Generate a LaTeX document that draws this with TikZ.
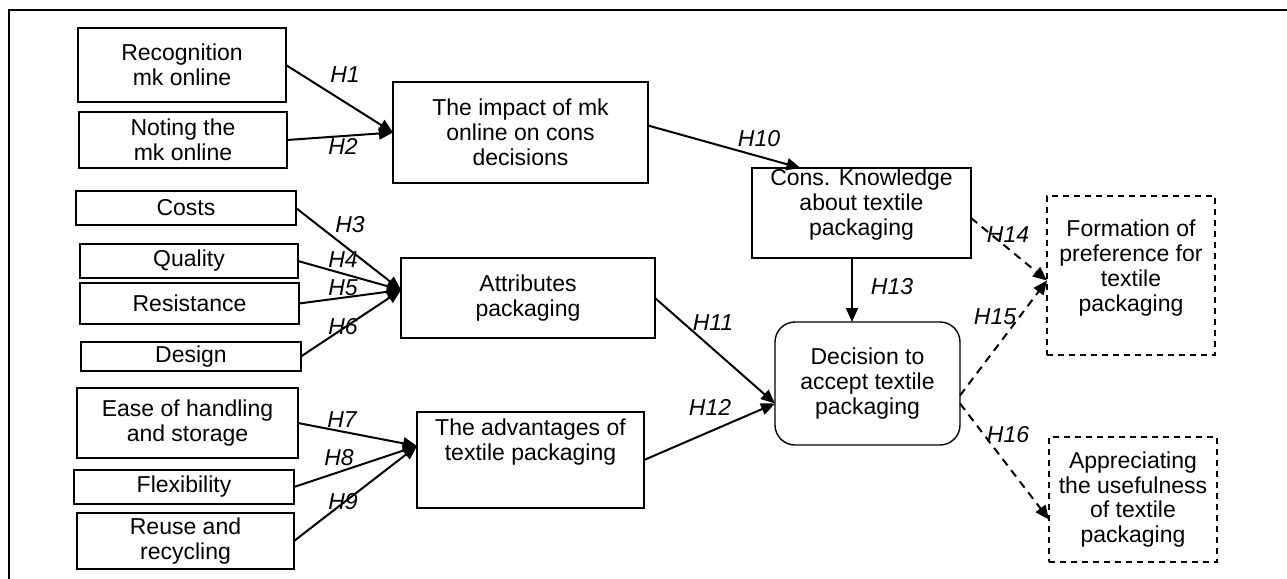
\documentclass[tikz,border=0pt]{standalone}
\usepackage{fontspec}
\setmainfont{Liberation Sans}
\usetikzlibrary{arrows.meta}
\tikzset{
  box/.style={draw, line width=.7pt, align=center, inner sep=0pt, outer sep=0pt,
    font=\fontsize{11.5}{12.4}\selectfont},
  dbox/.style={box, dash pattern=on 3pt off 2.5pt},
  sz/.style 2 args={minimum width=#1*.5pt, minimum height=#2*.5pt},
  hyp/.style={inner sep=0pt, font=\fontsize{11.5}{12.4}\selectfont\itshape},
  link/.style={line width=1pt, -{Triangle[length=7pt,width=6pt]}},
  dlink/.style={link, dash pattern=on 4pt off 3pt},
}
\begin{document}
\begin{tikzpicture}[x=.5pt,y=-.5pt]
  \useasboundingbox (0,0) rectangle (1287,579);
  \draw[line width=.6pt] (9,579) -- (9,10) -- (1287,10);

  % left column
  \node[box,sz={208}{74}] (recog) at (182,65) {Recognition\\mk online};
  \node[box,sz={208}{56}] (noting) at (183,140) {Noting the\\mk online};
  \node[box,sz={220}{34}] (costs) at (186,208) {Costs};
  \node[box,sz={218}{34}] (quality) at (189,261) {Quality};
  \node[box,sz={219}{41}] (resist) at (189.5,303.5) {Resistance};
  \node[box,sz={220}{29}] (design) at (191,356.5) {Design};
  \node[box,sz={221}{70}] (ease) at (187.5,423) {Ease of handling\\and storage};
  \node[box,sz={220}{34}] (flex) at (184,487) {Flexibility};
  \node[box,sz={217}{56}] (reuse) at (185.5,541) {Reuse and\\recycling};

  % middle column
  \node[box,sz={255}{101}] (impact) at (520.5,132.5) {The impact of mk\\online on cons\\decisions};
  \node[box,sz={254}{80}] (attrib) at (528,298) {Attributes\\packaging};
  \node[box,sz={227}{96},text depth=20pt] (advant) at (530.5,460) {The advantages of\\textile packaging};

  % right part
  \node[box,sz={219}{90},text depth=11pt] (knowl) at (861.5,213) {Cons. Knowledge\\about textile\\packaging};
  \node[box,sz={185}{123},rounded corners=10pt] (decis) at (867.5,383.5) {Decision to\\accept textile\\packaging};
  \node[dbox,sz={168}{159},text depth=10pt] (pref) at (1131,275.5) {Formation of\\preference for\\textile\\packaging};
  \node[dbox,sz={168}{125}] (useful) at (1133,499.5) {Appreciating\\the usefulness\\of textile\\packaging};

  \foreach \n/\x/\y in {1/345/75, 2/343/146, 3/350/225, 4/343/260, 5/343/288,
      6/343/327, 7/342/420, 8/339/458, 9/343/502, 10/759/139, 11/713/323,
      12/710/407, 13/892/287, 14/1008/235, 15/995/317, 16/1008/435}{%
    \node[hyp] (h\n) at (\x,\y) {H\n};
  }

  \draw[link] (recog.east) -- (impact.west);
  \draw[link] (noting.east) -- (impact.west);
  \foreach \s in {costs,quality,resist,design}{%
    \draw[link] (\s.east) -- ([yshift=4pt]attrib.west);
  }
  \foreach \s in {ease,flex,reuse}{%
    \draw[link] (\s.east) -- ([yshift=7pt]advant.west);
  }
  \draw[link] ([yshift=3.5pt]impact.east) -- ([xshift=-30.5pt]knowl.north);
  \draw[link] (attrib.east) -- ([yshift=-10pt]decis.west);
  \draw[link] (advant.east) -- ([yshift=-10pt]decis.west);
  \draw[link] ([xshift=-4.75pt]knowl.south) -- ([xshift=-4.75pt]knowl.south |- decis.north);
  \draw[dlink] ([yshift=-2.5pt]knowl.east) -- ([yshift=-2.5pt]pref.west);
  \draw[dlink] ([yshift=-6pt]decis.east) -- ([yshift=-2.5pt]pref.west);
  \draw[dlink] ([yshift=-10pt]decis.east) -- ([yshift=-10pt]useful.west);
\end{tikzpicture}
\end{document}
